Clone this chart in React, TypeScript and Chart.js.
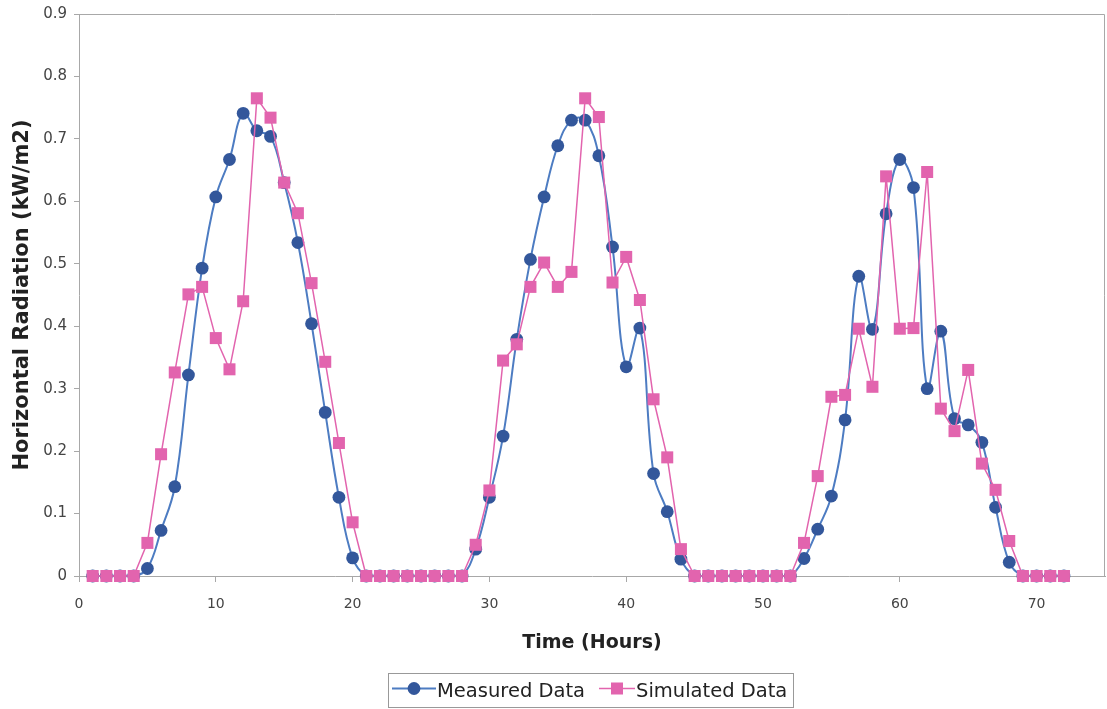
import React, { useEffect, useRef } from "react";
import { Chart, registerables } from "chart.js";

Chart.register(...registerables);

const hours = [
  1, 2, 3, 4, 5, 6, 7, 8, 9, 10, 11, 12, 13, 14, 15, 16, 17, 18, 19, 20, 21, 22, 23, 24,
  25, 26, 27, 28, 29, 30, 31, 32, 33, 34, 35, 36, 37, 38, 39, 40, 41, 42, 43, 44, 45, 46, 47, 48,
  49, 50, 51, 52, 53, 54, 55, 56, 57, 58, 59, 60, 61, 62, 63, 64, 65, 66, 67, 68, 69, 70, 71, 72,
];

const measured = [
  0, 0, 0, 0, 0.012, 0.073, 0.143, 0.322, 0.493, 0.607, 0.667, 0.741,
  0.713, 0.704, 0.63, 0.534, 0.404, 0.262, 0.126, 0.029, 0, 0, 0, 0,
  0, 0, 0, 0, 0.043, 0.126, 0.224, 0.379, 0.507, 0.607, 0.689, 0.73,
  0.73, 0.673, 0.527, 0.335, 0.397, 0.164, 0.103, 0.027, 0, 0, 0, 0,
  0, 0, 0, 0, 0.028, 0.075, 0.128, 0.25, 0.48, 0.395, 0.58, 0.667,
  0.622, 0.3, 0.392, 0.252, 0.242, 0.214, 0.11, 0.022, 0, 0, 0, 0,
];

const simulated = [
  0, 0, 0, 0, 0.053, 0.195, 0.326, 0.451, 0.463, 0.381, 0.331, 0.44,
  0.765, 0.734, 0.63, 0.581, 0.469, 0.343, 0.213, 0.086, 0, 0, 0, 0,
  0, 0, 0, 0, 0.05, 0.137, 0.345, 0.371, 0.463, 0.502, 0.463, 0.487,
  0.765, 0.735, 0.47, 0.511, 0.442, 0.283, 0.19, 0.043, 0, 0, 0, 0,
  0, 0, 0, 0, 0.053, 0.16, 0.287, 0.29, 0.396, 0.303, 0.64, 0.396,
  0.397, 0.647, 0.268, 0.232, 0.33, 0.18, 0.138, 0.056, 0, 0, 0, 0,
];

const xTickValues = [0, 10, 20, 30, 40, 50, 60, 70];

const BLUE_LINE = "#4d7cc2";
const BLUE_POINT = "#33579b";
const PINK = "#e264ae";
const AXIS = "#a8a8a8";
const TEXT = "#444444";
const FONT = "'DejaVu Sans', 'Liberation Sans', Arial, sans-serif";

const boxPlugin = {
  id: "plotBox",
  beforeDatasetsDraw(chart: any) {
    const { ctx, chartArea } = chart;
    ctx.save();
    ctx.strokeStyle = AXIS;
    ctx.lineWidth = 1;
    ctx.beginPath();
    ctx.moveTo(chartArea.left, chartArea.top + 0.5);
    ctx.lineTo(chartArea.right - 0.5, chartArea.top + 0.5);
    ctx.lineTo(chartArea.right - 0.5, chartArea.bottom);
    ctx.stroke();
    ctx.restore();
  },
};

const zeroPad = (s: any) => {
  s.paddingLeft = 0;
  s.paddingRight = 0;
  s.paddingTop = 0;
  s.paddingBottom = 0;
};

export default function App() {
  const ref = useRef<HTMLCanvasElement | null>(null);

  useEffect(() => {
    if (!ref.current) return;
    const simPts = hours.map((h, i) => ({ x: h, y: simulated[i] }));
    const meaPts = hours.map((h, i) => ({ x: h, y: measured[i] }));
    const chart = new Chart(ref.current, {
      type: "line",
      data: {
        datasets: [
          {
            label: "Simulated Data",
            data: simPts,
            borderColor: PINK,
            backgroundColor: PINK,
            borderWidth: 1.5,
            pointStyle: "rect",
            pointRadius: 8.5,
            pointBorderWidth: 0,
            pointBackgroundColor: PINK,
            tension: 0,
            clip: false,
          },
          {
            label: "Measured Data",
            data: meaPts,
            borderColor: BLUE_LINE,
            backgroundColor: BLUE_POINT,
            borderWidth: 2,
            pointStyle: "circle",
            pointRadius: 6.4,
            pointBorderWidth: 0,
            pointBackgroundColor: BLUE_POINT,
            tension: 0.4,
            clip: false,
          },
        ],
      },
      options: {
        animation: false,
        responsive: false,
        maintainAspectRatio: false,
        layout: { autoPadding: false, padding: { left: 0, top: 14, right: 2, bottom: 53 } },
        plugins: {
          legend: { display: false },
          tooltip: { enabled: false },
        },
        scales: {
          x: {
            type: "linear",
            min: 0,
            max: 75,
            afterBuildTicks: (s: any) => {
              s.ticks = xTickValues.map((v) => ({ value: v }));
            },
            afterFit: (s: any) => {
              s.height = 80;
              zeroPad(s);
            },
            grid: {
              drawOnChartArea: false,
              drawTicks: true,
              tickLength: 6,
              color: AXIS,
            },
            border: { display: true, color: AXIS, width: 1 },
            ticks: {
              color: TEXT,
              padding: 14,
              font: { family: FONT, size: 14 },
              maxRotation: 0,
              callback: (v: any) => String(v),
            },
            title: {
              display: true,
              text: "Time (Hours)",
              color: "#222",
              font: { family: FONT, size: 19, weight: "bold" },
              padding: { top: 0, bottom: 2 },
            },
          },
          y: {
            type: "linear",
            min: 0,
            max: 0.9,
            afterFit: (s: any) => {
              s.width = 79;
              zeroPad(s);
            },
            grid: {
              drawOnChartArea: false,
              drawTicks: true,
              tickLength: 5,
              color: AXIS,
            },
            border: { display: true, color: AXIS, width: 1 },
            ticks: {
              stepSize: 0.1,
              color: TEXT,
              padding: 7,
              font: { family: FONT, size: 15 },
              callback: (v: any) => (Number(v) === 0 ? "0" : Number(v).toFixed(1)),
            },
            title: {
              display: true,
              text: "Horizontal Radiation (kW/m2)",
              color: "#222",
              font: { family: FONT, size: 21, weight: "bold" },
              padding: { top: 10, bottom: 0 },
            },
          },
        },
      },
      plugins: [boxPlugin],
    } as any);
    return () => chart.destroy();
  }, []);

  const legendText: React.CSSProperties = {
    position: "absolute",
    top: 0,
    lineHeight: "33px",
    fontFamily: FONT,
    fontSize: 19.5,
    color: "#222",
    whiteSpace: "nowrap",
  };

  return (
    <div style={{ position: "absolute", left: 0, top: 0, width: 1107, height: 709, background: "#fff" }}>
      <canvas ref={ref} width={1107} height={709} style={{ display: "block" }} />
      <div
        style={{
          position: "absolute",
          left: 388,
          top: 673,
          width: 406,
          height: 35,
          border: "1px solid #999",
          boxSizing: "border-box",
        }}
      >
        <svg width={44} height={33} style={{ position: "absolute", left: 3, top: 0 }}>
          <line x1={0} y1={14.5} x2={44} y2={14.5} stroke={BLUE_LINE} strokeWidth={2} />
          <circle cx={22} cy={14.5} r={6.4} fill={BLUE_POINT} />
        </svg>
        <span style={{ ...legendText, left: 48 }}>Measured Data</span>
        <svg width={36} height={33} style={{ position: "absolute", left: 210, top: 0 }}>
          <line x1={0} y1={14.5} x2={36} y2={14.5} stroke={PINK} strokeWidth={1.5} />
          <rect x={12} y={8.5} width={12} height={12} fill={PINK} />
        </svg>
        <span style={{ ...legendText, left: 247 }}>Simulated Data</span>
      </div>
    </div>
  );
}
